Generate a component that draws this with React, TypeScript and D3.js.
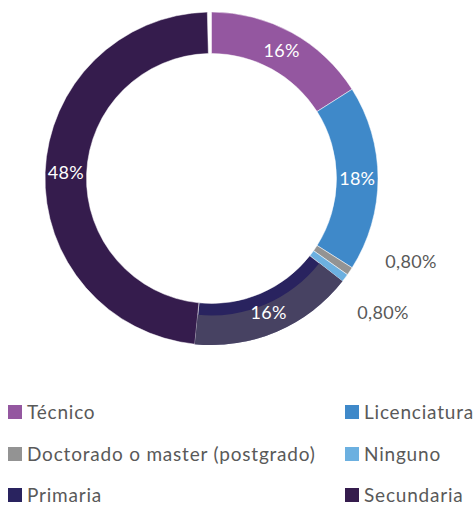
import React from "react";
import * as d3 from "d3";

const categories = ["Técnico", "Licenciatura", "Doctorado o master (postgrado)", "Ninguno", "Primaria", "Secundaria"];
const values = [16, 18, 0.8, 0.8, 16, 48];
const labels = ["16%", "18%", "0,80%", "0,80%", "16%", "48%"];
const colors = ["#9457A0", "#3F89C9", "#939393", "#6CB0E0", "#29235F", "#351C4D"];

export default function App() {
  const W = 474, H = 505;
  const cx = 211.5, cy = 178.5, rOut = 166.5, rIn = 125;
  const total = 100;
  const pie = d3.pie<number>().sort(null).value((d) => d)
    .startAngle(0).endAngle((2 * Math.PI * d3.sum(values)) / total);
  const arcs = pie(values);
  const arc = d3.arc<d3.PieArcDatum<number>>().innerRadius(rIn).outerRadius(rOut);
  const arcOuterBand = d3.arc<d3.PieArcDatum<number>>().innerRadius(137).outerRadius(rOut);
  const labelR = (rIn + rOut) / 2;
  const font = "Lato, 'Open Sans', sans-serif";
  const outsidePos = [null, null, [411, 262], [383, 313], null, null];
  const legendRows = [412, 454, 495];
  const legendCols = [8, 345];
  return (
    <svg width={W} height={H} style={{ position: "absolute", left: 0, top: 0, background: "#fff" }}>
      <g transform={`translate(${cx},${cy})`}>
        {arcs.map((a, i) => (
          <path key={i} d={arc(a) || ""} fill={colors[i]} stroke="#fff" strokeWidth={0.5} />
        ))}
        <path d={arcOuterBand(arcs[4]) || ""} fill="#474262" />
        {arcs.map((a, i) => {
          if (outsidePos[i]) return null;
          const m = (a.startAngle + a.endAngle) / 2;
          const x = Math.sin(m) * labelR;
          const y = -Math.cos(m) * labelR;
          return (
            <text key={i} x={x} y={y} dy="0.35em" textAnchor="middle" fill="#fff" fontSize={18} fontFamily={font} letterSpacing={0.3}>
              {labels[i]}
            </text>
          );
        })}
      </g>
      {outsidePos.map((p, i) => p ? (
        <text key={i} x={p[0]} y={p[1]} dy="0.35em" textAnchor="middle" fill="#595959" fontSize={18} fontFamily={font} letterSpacing={0.3}>
          {labels[i]}
        </text>
      ) : null)}
      {categories.map((c, i) => {
        const col = i % 2, row = Math.floor(i / 2);
        const x = legendCols[col], y = legendRows[row];
        return (
          <g key={c}>
            <rect x={x} y={y - 7} width={14} height={14} fill={colors[i]} />
            <text x={x + 19} y={y} dy="0.35em" fill="#595959" fontSize={19} fontFamily={font} letterSpacing={0.8}>{c}</text>
          </g>
        );
      })}
    </svg>
  );
}
